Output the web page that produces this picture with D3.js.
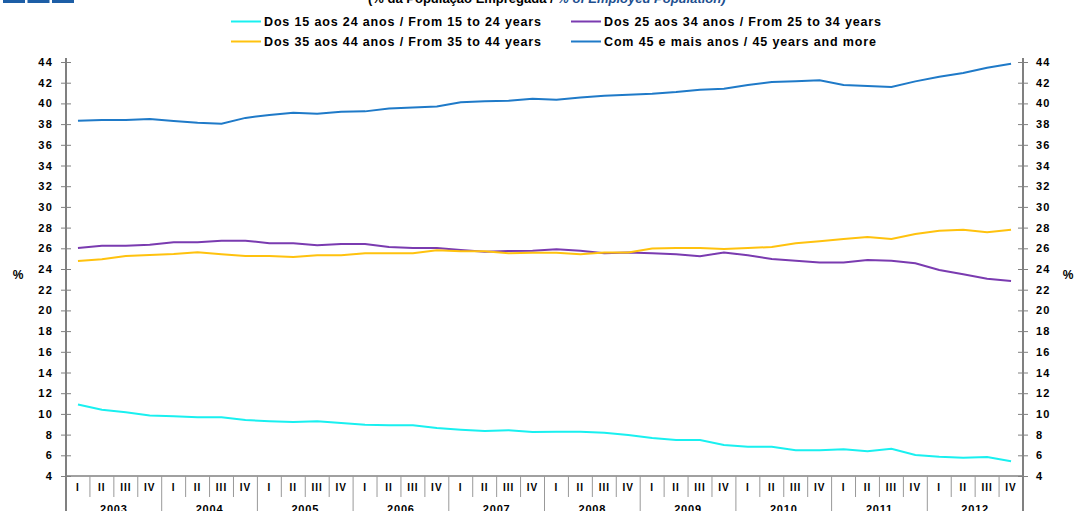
<!DOCTYPE html>
<html>
<head>
	<meta http-equiv="Content-Type" content="text/html;charset=utf-8">
	<title>Employed population by age group</title>
	<script src="https://cdn.jsdelivr.net/npm/d3@7"></script>
	<style type="text/css">
		body { margin: 0; background: #fff; }
		text { font-family: "Liberation Sans", Arial, sans-serif; font-weight: bold; }
		.axis path, .axis line { stroke: #808080; }
		.axis text { font-size: 11px; letter-spacing: 1.2px; fill: #000; }
	</style>
</head>
<body>
	<svg width="1075" height="511"></svg>

	<script type="text/javascript">
		// data, quarterly 2003 I .. 2012 IV
		var years = ["2003", "2004", "2005", "2006", "2007", "2008", "2009", "2010", "2011", "2012"];
		var quarters = ["I", "II", "III", "IV"];
		var yTicks = d3.range(4, 45, 2);

		var age15to24 = [10.9, 10.4, 10.15, 9.85, 9.77, 9.67, 9.67, 9.4, 9.3, 9.22,
			9.28, 9.12, 8.96, 8.9, 8.9, 8.64, 8.48, 8.35, 8.42, 8.25,
			8.28, 8.28, 8.19, 7.96, 7.67, 7.48, 7.48, 7.0, 6.83, 6.83,
			6.48, 6.48, 6.58, 6.38, 6.64, 6.03, 5.86, 5.77, 5.84, 5.42];
		var age25to34 = [26.03, 26.25, 26.25, 26.35, 26.58, 26.58, 26.74, 26.74, 26.48, 26.48,
			26.29, 26.42, 26.42, 26.13, 26.03, 26.03, 25.84, 25.67, 25.74, 25.77,
			25.9, 25.77, 25.52, 25.6, 25.52, 25.42, 25.23, 25.6, 25.32, 24.96,
			24.8, 24.64, 24.62, 24.87, 24.8, 24.55, 23.9, 23.49, 23.06, 22.84];
		var age35to44 = [24.77, 24.94, 25.26, 25.35, 25.45, 25.61, 25.42, 25.26, 25.26, 25.16,
			25.32, 25.32, 25.52, 25.52, 25.52, 25.8, 25.71, 25.71, 25.52, 25.58,
			25.58, 25.42, 25.6, 25.6, 25.97, 26.03, 26.03, 25.93, 26.03, 26.13,
			26.48, 26.67, 26.9, 27.1, 26.9, 27.38, 27.7, 27.8, 27.55, 27.8];
		var age45plus = [38.33, 38.4, 38.4, 38.5, 38.3, 38.14, 38.04, 38.6, 38.88, 39.1,
			39.0, 39.2, 39.23, 39.5, 39.6, 39.7, 40.1, 40.2, 40.26, 40.45,
			40.36, 40.58, 40.75, 40.84, 40.94, 41.1, 41.33, 41.42, 41.78, 42.07,
			42.13, 42.23, 41.78, 41.68, 41.58, 42.13, 42.58, 42.94, 43.45, 43.84];

		var series = [
			{ name: "Dos 15 aos 24 anos / From 15 to 24 years", values: age15to24, color: "#19f0f0" },
			{ name: "Dos 25 aos 34 anos / From 25 to 34 years", values: age25to34, color: "#7a3bb0" },
			{ name: "Dos 35 aos 44 anos / From 35 to 44 years", values: age35to44, color: "#ffc20e" },
			{ name: "Com 45 e mais anos / 45 years and more", values: age45plus, color: "#1f7ac8" }
		];

		var periods = [];
		years.forEach(function (yr) {
			quarters.forEach(function (q) { periods.push({ year: yr, q: q, id: yr + q }); });
		});

		var svg = d3.select("svg");
		var plotL = 66, plotR = 1023, plotT = 62, plotB = 476;

		var x = d3.scaleBand().domain(periods.map(function (p) { return p.id; })).range([plotL, plotR]);
		var y = d3.scaleLinear().domain([4, 44]).range([plotB, plotT]);

		// logo bits at the top left
		svg.selectAll("rect.logo").data([0, 1, 2]).enter().append("rect")
			.attr("class", "logo")
			.attr("x", function (d) { return 3 + d * 24.5; })
			.attr("y", 0).attr("width", 22).attr("height", 3)
			.attr("fill", "#1d5ea6");

		// title, cut off by the top edge
		var title = svg.append("text").attr("x", 368).attr("y", 3).attr("font-size", 13);
		title.append("tspan").attr("fill", "#000").text("(% da População Empregada / ");
		title.append("tspan").attr("fill", "#1d4f8f").attr("font-style", "italic").text("% of Employed Population)");

		// legend
		var legend = svg.selectAll("g.legend").data(series).enter().append("g")
			.attr("class", "legend")
			.attr("transform", function (d, i) {
				return "translate(" + (i % 2 === 0 ? 231 : 571) + "," + (i < 2 ? 21.5 : 41.5) + ")";
			});
		legend.append("line").attr("x1", 0).attr("x2", 30).attr("y1", 0).attr("y2", 0)
			.attr("stroke", function (d) { return d.color; }).attr("stroke-width", 2);
		legend.append("text").attr("x", 33).attr("y", 4.5)
			.attr("font-size", 12.5).attr("letter-spacing", "0.85px")
			.text(function (d) { return d.name; });

		// y axes on both sides, ticks crossing the line
		var yl = svg.append("g").attr("class", "axis").attr("transform", "translate(" + plotL + ",0)")
			.call(d3.axisLeft(y).tickValues(yTicks).tickSize(5).tickSizeOuter(0).tickPadding(8));
		var yr = svg.append("g").attr("class", "axis").attr("transform", "translate(" + plotR + ",0)")
			.call(d3.axisRight(y).tickValues(yTicks).tickSize(5).tickSizeOuter(0).tickPadding(8));
		yl.selectAll(".tick line").attr("x1", 5).attr("stroke", "#555");
		yr.selectAll(".tick line").attr("x1", -5).attr("stroke", "#555");
		svg.selectAll(".axis path").remove();

		// frame lines: both verticals run down through the category rows
		svg.append("line").attr("x1", plotL).attr("x2", plotL).attr("y1", plotT - 4).attr("y2", 511)
			.attr("stroke", "#808080").attr("stroke-width", 2);
		svg.append("line").attr("x1", plotR).attr("x2", plotR).attr("y1", plotT - 4).attr("y2", 511)
			.attr("stroke", "#808080").attr("stroke-width", 2);
		svg.append("line").attr("x1", plotL).attr("x2", plotR).attr("y1", plotB).attr("y2", plotB)
			.attr("stroke", "#808080").attr("stroke-width", 1.5);

		// category axis: quarter separators, year separators, labels
		svg.selectAll("line.sep").data(periods.slice(1)).enter().append("line")
			.attr("class", "sep")
			.attr("x1", function (d) { return x(d.id); })
			.attr("x2", function (d) { return x(d.id); })
			.attr("y1", plotB)
			.attr("y2", function (d) { return d.q === "I" ? 511 : 497; })
			.attr("stroke", "#999").attr("stroke-width", 1);

		svg.selectAll("text.q").data(periods).enter().append("text")
			.attr("class", "q")
			.attr("x", function (d) { return x(d.id) + x.bandwidth() / 2; })
			.attr("y", 491)
			.attr("text-anchor", "middle")
			.attr("font-size", 10).attr("letter-spacing", "1px")
			.text(function (d) { return d.q; });

		svg.selectAll("text.yr").data(years).enter().append("text")
			.attr("class", "yr")
			.attr("x", function (d) { return x(d + "I") + x.bandwidth() * 2; })
			.attr("y", 512.5)
			.attr("text-anchor", "middle")
			.attr("font-size", 11).attr("letter-spacing", "0.8px")
			.text(function (d) { return d; });

		// % unit labels
		svg.append("text").attr("x", 18).attr("y", 279).attr("text-anchor", "middle")
			.attr("font-size", 12).text("%");
		svg.append("text").attr("x", 1068).attr("y", 279).attr("text-anchor", "middle")
			.attr("font-size", 12).text("%");

		// series lines
		var line = d3.line()
			.x(function (d, i) { return x(periods[i].id) + x.bandwidth() / 2; })
			.y(function (d) { return y(d); });

		svg.selectAll("path.series").data(series).enter().append("path")
			.attr("class", "series")
			.attr("fill", "none")
			.attr("stroke", function (d) { return d.color; })
			.attr("stroke-width", 2)
			.attr("d", function (d) { return line(d.values); });
	</script>
</body>
</html>
